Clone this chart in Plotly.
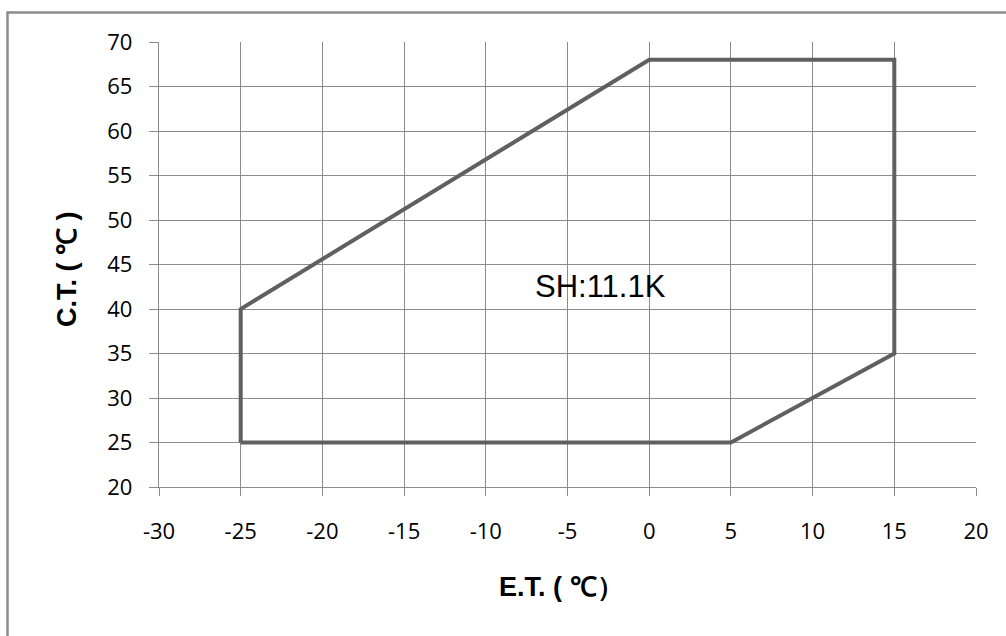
import plotly.graph_objects as go

# Operating envelope (E.T., C.T.)
et = [-25, 5, 15, 15, 0, -25, -25]
ct = [25, 25, 35, 68, 68, 40, 25]
x_ticks = [-30, -25, -20, -15, -10, -5, 0, 5, 10, 15, 20]
y_ticks = [20, 25, 30, 35, 40, 45, 50, 55, 60, 65, 70]
label_text = "SH:11.1K"
label_pos = (-3.0, 42.5)

W, H = 1006, 636
L, R, T, B = 159, 30, 42, 149
pw, ph = W - L - R, H - T - B

def px2paper_x(px):
    return (px - L) / pw

def py2paper_y(py):
    return (H - B - py) / ph

fig = go.Figure()
fig.add_trace(go.Scatter(x=et, y=ct, mode="lines",
                         line=dict(color="#606060", width=4),
                         hoverinfo="skip", showlegend=False))

grid = "#8c8c8c"
tickfont = dict(family="Open Sans, Liberation Sans, sans-serif", size=22, color="#000")
fig.update_xaxes(range=[-30, 20], tickvals=x_ticks, ticktext=[str(v) for v in x_ticks],
                 showgrid=True, gridcolor=grid, gridwidth=1.4,
                 showline=True, linecolor=grid, linewidth=1.4,
                 ticks="outside", ticklen=8, tickcolor=grid, tickwidth=1.4,
                 tickfont=tickfont, ticklabelstandoff=16, zeroline=False, fixedrange=True)
fig.update_yaxes(range=[20, 70], tickvals=y_ticks, ticktext=[str(v) for v in y_ticks],
                 showgrid=True, gridcolor=grid, gridwidth=1.4,
                 showline=True, linecolor=grid, linewidth=1.4,
                 ticks="outside", ticklen=9, tickcolor=grid, tickwidth=1.4,
                 tickfont=tickfont, ticklabelstandoff=12, zeroline=False, fixedrange=True)

fig.add_annotation(x=label_pos[0], y=label_pos[1], text=label_text, showarrow=False,
                   font=dict(family="Liberation Sans, Arial, sans-serif", size=31, color="#000"),
                   xanchor="center", yanchor="middle")

title_font = dict(family="Liberation Sans, Arial, sans-serif", size=27, color="#000")
fig.add_annotation(xref="paper", yref="paper", x=px2paper_x(561), y=py2paper_y(587),
                   text="<b>E.T. ( ℃）</b>", showarrow=False, font=title_font,
                   xanchor="center", yanchor="middle")
fig.add_annotation(xref="paper", yref="paper", x=px2paper_x(67), y=py2paper_y(269),
                   text="<b>C.T. ( ℃ )</b>", showarrow=False, font=title_font,
                   textangle=-90, xanchor="center", yanchor="middle")

# outer chart border
fig.add_shape(type="rect", xref="paper", yref="paper",
              x0=px2paper_x(7.5), x1=px2paper_x(1012),
              y0=py2paper_y(642), y1=py2paper_y(12.5),
              line=dict(color="#8c8c8c", width=2.5), fillcolor="rgba(0,0,0,0)", layer="above")

fig.update_layout(width=W, height=H, margin=dict(l=L, r=R, t=T, b=B, pad=0),
                  plot_bgcolor="white", paper_bgcolor="white", showlegend=False)

fig.write_html("out.html", config={"displayModeBar": False})

# remove default page margin so the figure sits at the window origin
with open("out.html", "r", encoding="utf-8") as f:
    html = f.read()
html = html.replace("<body>", '<body style="margin:0;padding:0;overflow:hidden">', 1)
with open("out.html", "w", encoding="utf-8") as f:
    f.write(html)
